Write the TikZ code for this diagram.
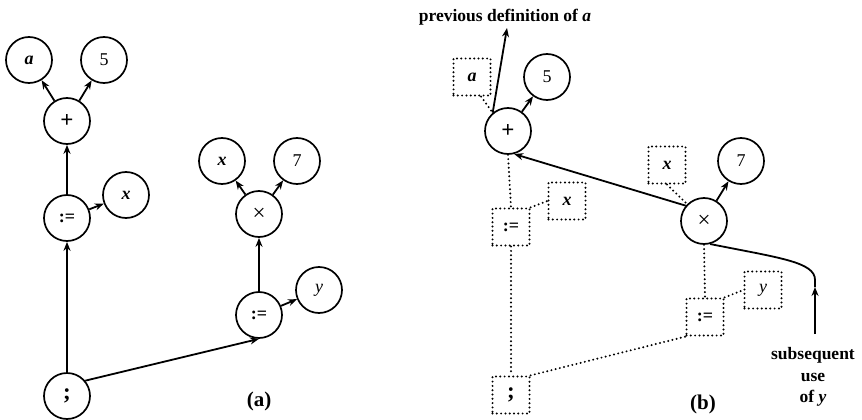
\documentclass[tikz,border=0pt]{standalone}
\usepackage{fontspec}
\setmainfont{Liberation Serif}
\usetikzlibrary{arrows.meta}

\newcommand{\lab}{\fontsize{17.5}{21.5}\selectfont}
\newcommand{\nlab}{\fontsize{18}{21}\selectfont}
\newcommand{\oplab}{\fontsize{23}{25}\selectfont}
\newcommand{\panlab}{\fontsize{21}{24}\selectfont}

\tikzset{
  vnode/.style={circle, draw, line width=1.7pt, minimum size=46pt, inner sep=0pt, font=\nlab},
  dotline/.style={line width=2.2pt, dash pattern=on 0pt off 4.3pt, line cap=round},
  dbox/.style={rectangle, draw, dotline, minimum size=37pt, inner sep=0pt, font=\nlab},
  arr/.style={line width=1.8pt, -{Stealth[length=9pt,width=7pt]}},
  plainline/.style={line width=1.8pt},
  caption/.style={font=\lab\bfseries, inner sep=0pt},
  panelcap/.style={font=\panlab\bfseries, inner sep=0pt},
}

\begin{document}
\begin{tikzpicture}[x=1pt, y=-1pt]
  \useasboundingbox (0,0) rectangle (862,420);

  % ---------- (a): syntax tree ----------
  \node[vnode] (a1)     at (29,60)   {\textbf{\textit{a}}};
  \node[vnode] (five1)  at (104,60)  {5};
  \node[vnode] (plus1)  at (67,121)  {\oplab\textbf{+}};
  \node[vnode] (as1)    at (67,218)  {\textbf{:=}};
  \node[vnode] (x1)     at (126,195) {\textbf{\textit{x}}};
  \node[vnode] (semi1)  at (67,396)  {\oplab\textbf{;}};
  \node[vnode] (x2)     at (222,161) {\textbf{\textit{x}}};
  \node[vnode] (seven1) at (297,161) {7};
  \node[vnode] (times1) at (259,214) {\oplab ×};
  \node[vnode] (as2)    at (259,315) {\textbf{:=}};
  \node[vnode] (y1)     at (319,290) {\textit{y}};
  \node[panelcap] (labA) at (259,401) {(a)};

  \draw[arr] (plus1) -- (a1);
  \draw[arr] (plus1) -- (five1);
  \draw[arr] (as1) -- (plus1);
  \draw[arr] (as1) -- (x1);
  \draw[arr] (semi1) -- (as1);
  \draw[arr] (semi1.40) -- (as2.south);
  \draw[arr] (times1) -- (x2);
  \draw[arr] (times1) -- (seven1);
  \draw[arr] (as2) -- (times1);
  \draw[arr] (as2) -- (y1);

  % ---------- (b): value graph with statements ----------
  \node[caption] (prevdef) at (505,17) {previous definition of \textit{a}};
  \coordinate (tipA) at (507,28);

  \node[dbox]  (abox)   at (472,77)  {\textbf{\textit{a}}};
  \node[vnode] (five2)  at (547,77)  {5};
  \node[vnode] (plus2)  at (508,131) {\oplab\textbf{+}};
  \node[dbox]  (xbox1)  at (567,201) {\textbf{\textit{x}}};
  \node[dbox]  (bas1)   at (511,227) {\textbf{:=}};
  \node[dbox]  (semi2)  at (511,395) {\oplab\textbf{;}};
  \node[dbox]  (xbox2)  at (667,165) {\textbf{\textit{x}}};
  \node[vnode] (seven2) at (741,161) {7};
  \node[vnode] (times2) at (704,221) {\oplab ×};
  \node[dbox]  (bas2)   at (705,317) {\textbf{:=}};
  \node[dbox]  (ybox)   at (763,290) {\textit{y}};
  \node[panelcap] (labB) at (703,404) {(b)};
  \node[caption, align=center] (usetext) at (813,377)
    {subsequent\\use\\of \textit{y}};
  \coordinate (usetail) at (815,334);
  \coordinate (bend) at (815,287);

  % data edges
  \draw[arr] (plus2.130) -- (tipA);
  \draw[arr] (plus2) -- (five2);
  \draw[arr] (times2.140) -- (plus2.-75);
  \draw[arr] (times2) -- (seven2);
  \draw[arr] (usetail) -- (bend);
  \draw[plainline] (bend) -- (815,280) .. controls (815,262) and (780,258) .. (times2.-75);

  % statement links
  \draw[dotline] (abox.-65) -- (plus2.130);
  \draw[dotline] (xbox2.south) -- (times2.135);
  \draw[dotline] (plus2.south) -- (bas1.north);
  \draw[dotline] (bas1.north east) -- (xbox1.west);
  \draw[dotline] (bas1.south) -- (semi2.north);
  \draw[dotline] (semi2.north east) -- (bas2.south west);
  \draw[dotline] (times2.south) -- (bas2.north);
  \draw[dotline] (bas2.north east) -- (ybox.west);
\end{tikzpicture}
\end{document}
